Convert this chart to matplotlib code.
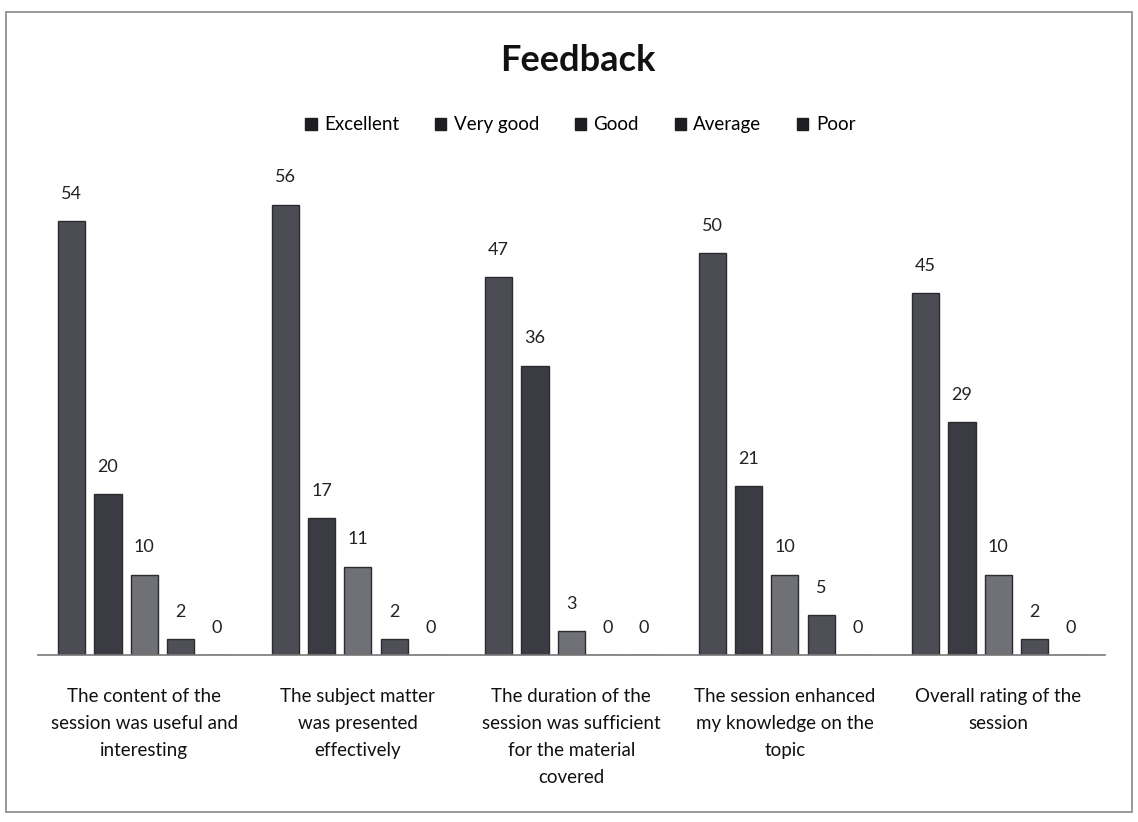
import matplotlib.pyplot as plt
import numpy as np
from matplotlib.patches import Rectangle

plt.rcParams['font.family'] = ['Lato', 'DejaVu Sans']

categories = ["The content of the\nsession was useful and\ninteresting",
              "The subject matter\nwas presented\neffectively",
              "The duration of the\nsession was sufficient\nfor the material\ncovered",
              "The session enhanced\nmy knowledge on the\ntopic",
              "Overall rating of the\nsession"]
series = ["Excellent", "Very good", "Good", "Average", "Poor"]
excellent = [54, 56, 47, 50, 45]
very_good = [20, 17, 36, 21, 29]
good = [10, 11, 3, 10, 10]
average = [2, 2, 0, 5, 2]
poor = [0, 0, 0, 0, 0]
values = [excellent, very_good, good, average, poor]
colors = ['#4c4c55', '#3b3b43', '#707077', '#4f4f57', '#46464e']

fig = plt.figure(figsize=(11.38, 8.22), dpi=100)
ax = fig.add_axes([0.033, 0.203, 0.938, 0.587])

index = np.arange(len(categories))
step = 0.17
width = 0.127
for i in range(len(series)):
    pos = index + (i - 2) * step
    ax.bar(pos, values[i], width=width, color=colors[i], edgecolor='#2b2b30',
           linewidth=1, label=series[i])
    for x, v in zip(pos, values[i]):
        ax.text(x, v + 2.4, str(v), ha='center', va='bottom', fontsize=13, color='#222222')

ax.set_xlim(-0.5, 4.5)
ax.set_ylim(0, 60)
ax.set_yticks([])
ax.set_xticks(index)
ax.set_xticklabels(categories, fontsize=13.5, color='#111111', linespacing=1.7)
ax.tick_params(axis='x', length=0, pad=24)
for s in ['top', 'right', 'left']:
    ax.spines[s].set_visible(False)
ax.spines['bottom'].set_color('#777777')
ax.spines['bottom'].set_linewidth(1.2)

fig.text(0.508, 0.927, "Feedback", ha='center', va='center', fontsize=26,
         fontweight='bold', color='#111111')

handles = [Rectangle((0, 0), 1, 1, color='#1e1e22') for _ in series]
fig.legend(handles, series, loc='center', bbox_to_anchor=(0.51, 0.848), ncol=5,
           frameon=False, fontsize=13.5, handlelength=0.6, handleheight=0.6,
           handletextpad=0.4, columnspacing=1.9)

fig.add_artist(Rectangle((0.005, 0.012), 0.99, 0.973, transform=fig.transFigure,
                         fill=False, edgecolor='#888888', linewidth=1.2))

fig.savefig("out.png", dpi=100, facecolor='white')
